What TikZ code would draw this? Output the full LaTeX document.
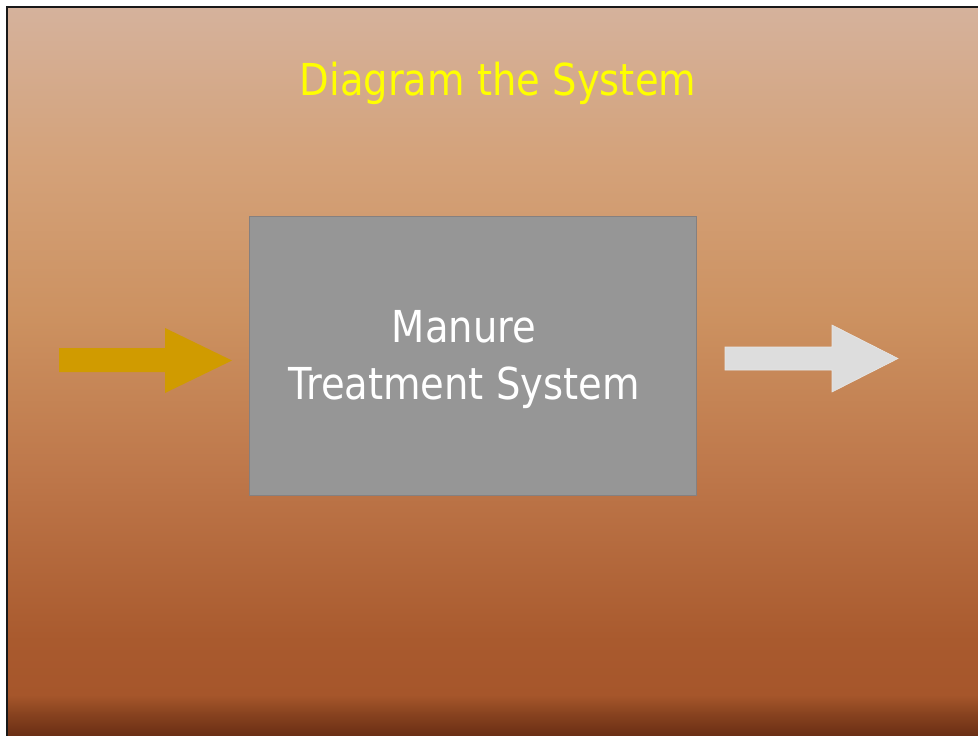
\documentclass[tikz,border=0pt]{standalone}
\usepackage{fontspec}
\newfontfamily\slidefont[FakeStretch=0.875]{DejaVu Sans}
\definecolor{bgA}{HTML}{D5B29C}
\definecolor{bgB}{HTML}{D4A27A}
\definecolor{bgC}{HTML}{CC9160}
\definecolor{bgD}{HTML}{BD7649}
\definecolor{bgE}{HTML}{A95A2E}
\definecolor{bgF}{HTML}{A6562B}
\definecolor{bgG}{HTML}{8A4420}
\definecolor{bgH}{HTML}{6A2E14}
\definecolor{boxfill}{HTML}{969696}
\definecolor{boxline}{HTML}{858080}
\definecolor{inflow}{HTML}{D09B00}
\definecolor{outflow}{HTML}{DDDDDD}
\definecolor{titleyellow}{HTML}{FFFF00}
\tikzset{
  band/.style={draw=none},
  sysbox/.style={draw=boxline, line width=1pt, fill=boxfill},
  boxtext/.style={text=white, font=\slidefont\fontsize{44}{57}\selectfont, align=center},
  titletext/.style={text=titleyellow, font=\slidefont\fontsize{44}{52}\selectfont, anchor=base},
  inarrow/.style={fill=inflow, draw=none},
  outarrow/.style={fill=outflow, draw=outflow!70!white, line width=0.6pt},
}
\begin{document}
\begin{tikzpicture}[x=1pt,y=-1pt]
\useasboundingbox (0,0) rectangle (978,736);
\fill[white] (0,0) rectangle (978,736);
% background bands, top to bottom
\shade[band, top color=bgA, bottom color=bgB] (7,7) rectangle (978,160.5);
\shade[band, top color=bgB, bottom color=bgC] (7,160) rectangle (978,320.5);
\shade[band, top color=bgC, bottom color=bgD] (7,320) rectangle (978,480.5);
\shade[band, top color=bgD, bottom color=bgE] (7,480) rectangle (978,640.5);
\shade[band, top color=bgE, bottom color=bgF] (7,640) rectangle (978,695.5);
\shade[band, top color=bgF, bottom color=bgG] (7,695) rectangle (978,712.5);
\shade[band, top color=bgG, bottom color=bgH] (7,712) rectangle (978,736);
% frame edges
\fill[black!90] (5.5,5.5) rectangle (978,7.5);
\fill[black!90] (5.5,5.5) rectangle (8,736);

% title
\node[titletext] (title) at (498,95) {Diagram the System};

% system block
\node[sysbox, minimum width=447pt, minimum height=279pt, inner sep=0pt] (sys) at (472.5,355.5) {};
\node[boxtext] (label) at (464,359.5) {Manure\\Treatment System};

% input arrow
\fill[inarrow] (59,348) -- (165,348) -- (165,328) -- (232,360.5) -- (165,393) -- (165,372) -- (59,372) -- cycle;
% output arrow
\filldraw[outarrow] (725,347) -- (832,347) -- (832,325) -- (898,358.5) -- (832,392) -- (832,370) -- (725,370) -- cycle;
\end{tikzpicture}
\end{document}
